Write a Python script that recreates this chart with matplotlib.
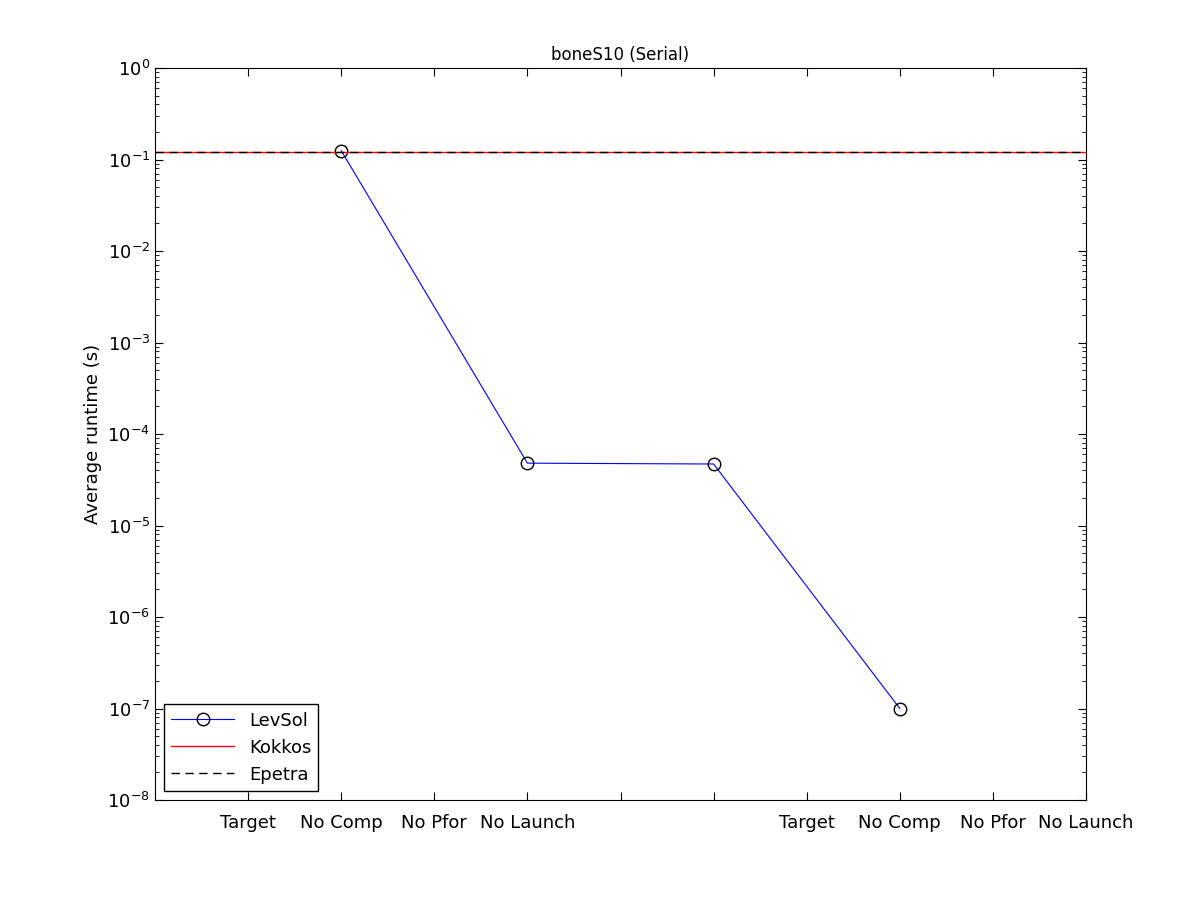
import matplotlib
matplotlib.use("Agg")
import matplotlib.pyplot as plt
from matplotlib.ticker import LogLocator, NullFormatter

tick_pos = [1, 2, 3, 4, 5, 6, 7, 8, 9, 10]
tick_labels = ["Target", "No Comp", "No Pfor", "No Launch", "", "", "Target", "No Comp", "No Pfor", "No Launch"]
levsol_x = [2, 4, 6, 8]
levsol_y = [0.125, 4.8e-5, 4.7e-5, 1.0e-7]
kokkos_y = 0.12
epetra_y = 0.12

fig = plt.figure(figsize=(12, 9), dpi=100)
ax = fig.add_axes([155/1200, 100/900, 931/1200, 732/900])
ax.plot(levsol_x, levsol_y, color="blue", lw=0.8, marker="o", mfc="none", mec="black", ms=9, label="LevSol")
ax.axhline(kokkos_y, color="red", lw=1.0, label="Kokkos")
ax.axhline(epetra_y, color="black", lw=1.0, ls=(0, (6, 4)), label="Epetra")
ax.set_yscale("log")
ax.set_ylim(1e-8, 1)
ax.set_xlim(0, 10)
ax.set_xticks(tick_pos)
ax.set_xticklabels(tick_labels, fontsize=13)
ax.yaxis.set_major_locator(LogLocator(base=10, numticks=20))
ax.yaxis.set_minor_locator(LogLocator(base=10, subs=range(2, 10), numticks=20))
ax.yaxis.set_minor_formatter(NullFormatter())
ax.tick_params(axis="y", labelsize=13)
ax.tick_params(axis="x", pad=10)
ax.tick_params(which="both", direction="in", top=True, right=True)
ax.tick_params(which="major", length=6)
ax.tick_params(which="minor", length=3)
ax.set_ylabel("Average runtime (s)", fontsize=13)
ax.set_title("boneS10 (Serial)", fontsize=12)
leg = ax.legend(loc="lower left", fontsize=13, fancybox=False, framealpha=1, edgecolor="black", handlelength=3.5)
fig.savefig("out.png", dpi=100, facecolor="white")
